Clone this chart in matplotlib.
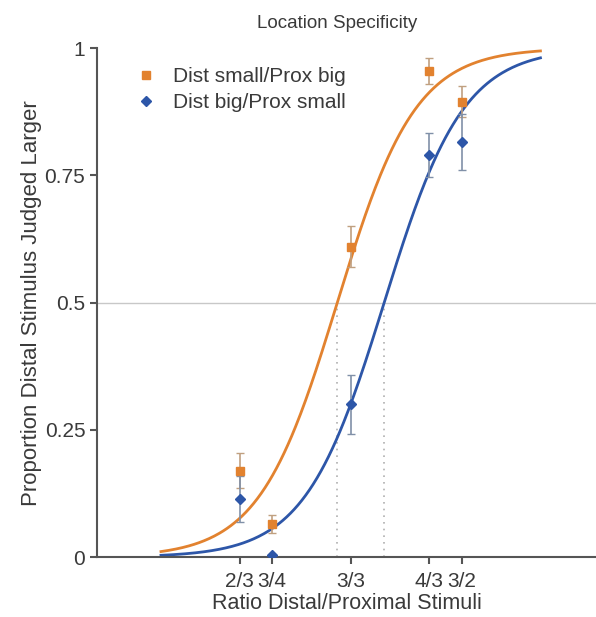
import numpy as np
import matplotlib.pyplot as plt
from matplotlib.ticker import NullLocator

plt.rcParams['font.family'] = ['Liberation Sans', 'DejaVu Sans']

# Data
ratio_labels = ['2/3', '3/4', '3/3', '4/3', '3/2']
ratios = [2 / 3, 3 / 4, 1.0, 4 / 3, 3 / 2]

small_prox_big = [0.17, 0.065, 0.61, 0.955, 0.895]
small_prox_big_err = [0.035, 0.018, 0.04, 0.025, 0.03]

big_prox_small = [0.115, 0.005, 0.30, 0.79, 0.815]
big_prox_small_err = [0.045, 0.0, 0.058, 0.043, 0.055]

# Fitted psychometric functions (logistic on log ratio): PSE and spread
orange_pse, orange_spread = 0.952, 0.143
blue_pse, blue_spread = 1.13, 0.145
curve_range = (0.5, 2.0)

orange = '#E2822F'
blue = '#2D56A8'
text_col = '#3a3a3a'

fig = plt.figure(figsize=(5.96, 6.17), dpi=100)
ax = fig.add_axes([0.163, 0.097, 0.837, 0.825])


def psychometric(x, pse, spread):
    return 1.0 / (1.0 + np.exp(-(np.log(x) - np.log(pse)) / spread))


xs = np.geomspace(curve_range[0], curve_range[1], 300)
ax.axhline(0.5, color='#c8c8c8', lw=1, zorder=1)
for pse in (orange_pse, blue_pse):
    ax.plot([pse, pse], [0, 0.5], ls=(0, (1, 3)), color='#b0b0b0', lw=1.2, zorder=1)

ax.plot(xs, psychometric(xs, orange_pse, orange_spread), color=orange, lw=2, zorder=2)
ax.plot(xs, psychometric(xs, blue_pse, blue_spread), color=blue, lw=2, zorder=2)

ax.errorbar(ratios, small_prox_big, yerr=small_prox_big_err, fmt='none',
            ecolor='#c0a080', elinewidth=1.2, capsize=3, zorder=3)
ax.errorbar(ratios, big_prox_small, yerr=big_prox_small_err, fmt='none',
            ecolor='#8090a8', elinewidth=1.2, capsize=3, zorder=3)
ax.plot(ratios, small_prox_big, 's', color=orange, ms=6, zorder=4,
        label='Dist small/Prox big')
ax.plot(ratios, big_prox_small, 'D', color=blue, ms=5.5, zorder=4,
        label='Dist big/Prox small')

ax.set_xscale('log')
ax.set_xlim(0.396, 2.45)
ax.set_ylim(0, 1)
ax.set_xticks(ratios)
ax.set_xticklabels(ratio_labels)
ax.xaxis.set_minor_locator(NullLocator())
ax.set_yticks([0, 0.25, 0.5, 0.75, 1])
ax.set_yticklabels(['0', '0.25', '0.5', '0.75', '1'])

for side in ('top', 'right'):
    ax.spines[side].set_visible(False)
for side in ('left', 'bottom'):
    ax.spines[side].set_color('#555555')
    ax.spines[side].set_linewidth(1.5)
ax.tick_params(colors='#555555', labelcolor=text_col, labelsize=15,
               direction='out', length=5, width=1.5)
ax.tick_params(axis='x', pad=6)

ax.set_xlabel('Ratio Distal/Proximal Stimuli', fontsize=15.5, color=text_col, labelpad=1)
ax.set_ylabel('Proportion Distal Stimulus Judged Larger', fontsize=16,
              color=text_col, labelpad=2)
fig.text(0.566, 0.962, 'Location Specificity', fontsize=13.5, color=text_col,
         ha='center', va='center')

ax.legend(loc='upper left', bbox_to_anchor=(0.035, 1.0), frameon=False,
          fontsize=15, handletextpad=0.7, labelspacing=0.35, handlelength=1.2,
          labelcolor=text_col)

fig.savefig('out.png', dpi=100)
